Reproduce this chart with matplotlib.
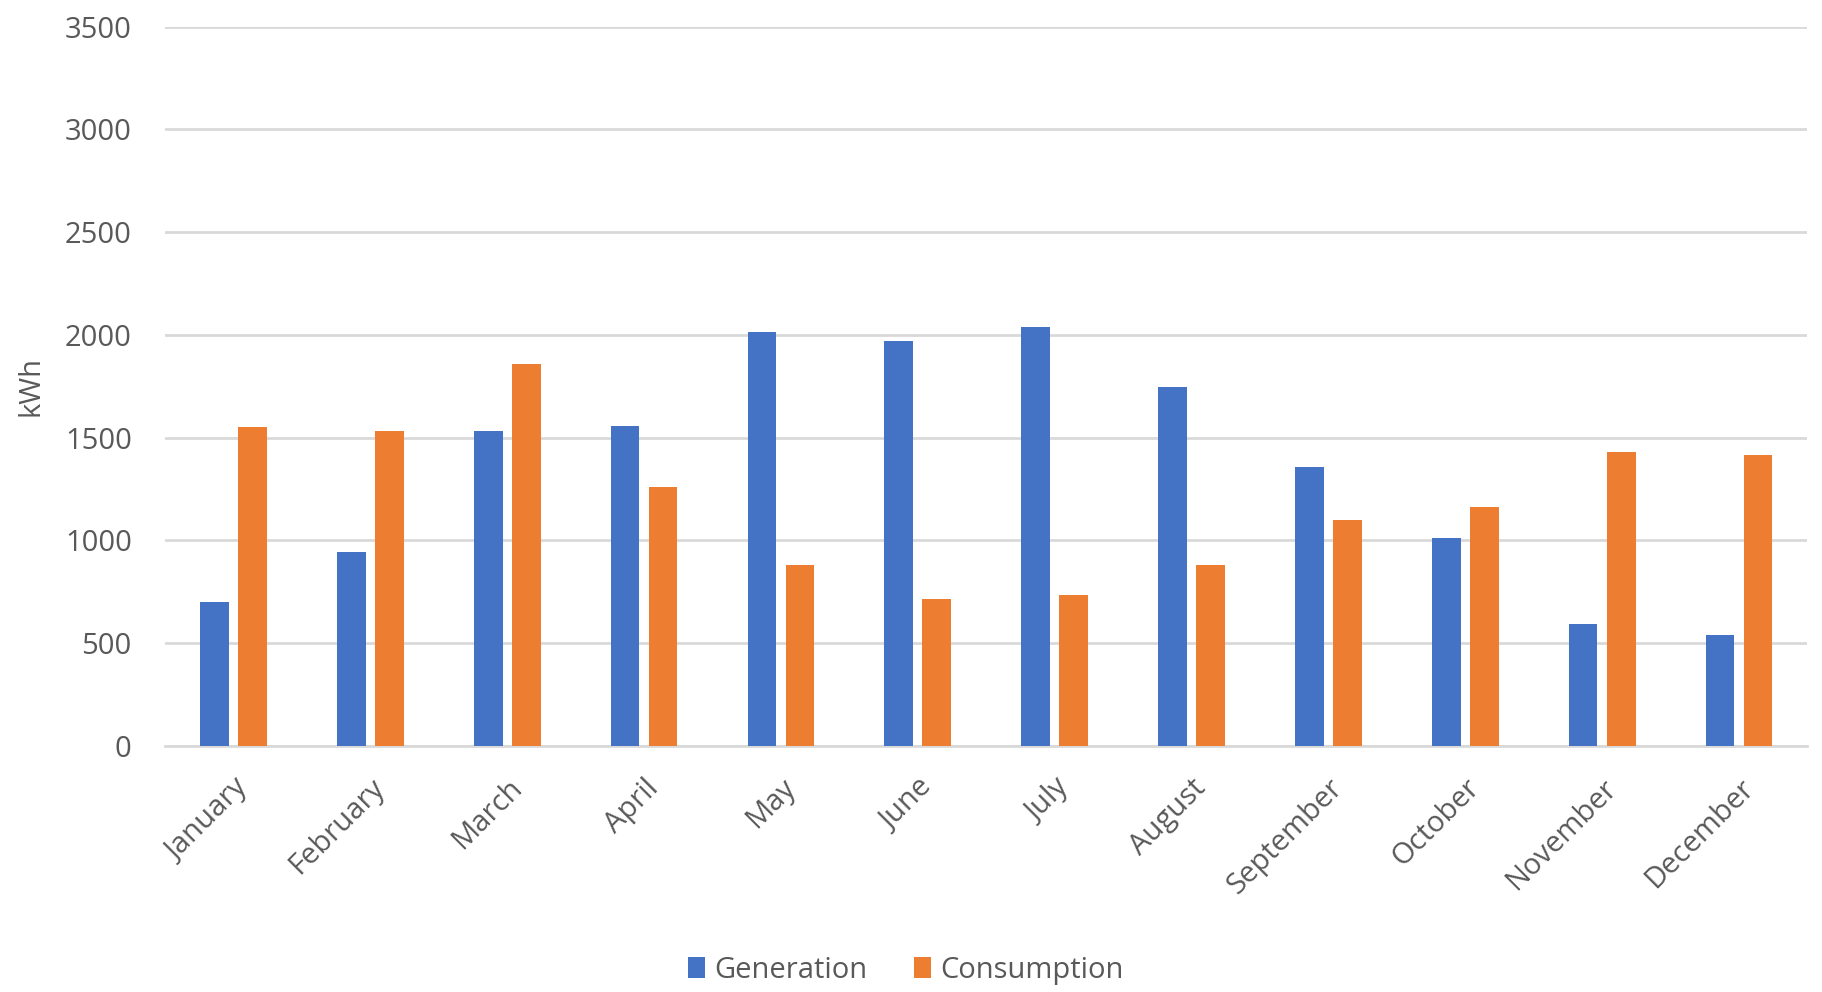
import matplotlib
matplotlib.use("Agg")
import matplotlib.pyplot as plt
import numpy as np

# ============================================
# DATA
# ============================================
months = ["January", "February", "March", "April", "May", "June",
          "July", "August", "September", "October", "November", "December"]

generation = [700, 945, 1530, 1555, 2015, 1970, 2040, 1745, 1355, 1010, 590, 540]
consumption = [1550, 1530, 1860, 1260, 880, 715, 735, 880, 1100, 1160, 1430, 1415]

y_ticks = [0, 500, 1000, 1500, 2000, 2500, 3000, 3500]

# ============================================
# PLOT
# ============================================
plt.rcParams['font.family'] = ['Open Sans', 'DejaVu Sans']
text_color = "#595959"
blue = "#4472C4"
orange = "#ED7D31"
fs = 21

fig = plt.figure(figsize=(18.22, 9.92), dpi=100)
ax = fig.add_axes([0.0906, 0.2483, 0.9014, 0.7247])

x = np.arange(len(months))
w = 0.21
off = 0.139

ax.bar(x - off, generation, width=w, color=blue, label="Generation", zorder=3)
ax.bar(x + off, consumption, width=w, color=orange, label="Consumption", zorder=3)

ax.set_xlim(-0.5, len(months) - 0.5)
ax.set_ylim(0, 3500)
ax.set_yticks(y_ticks)
ax.yaxis.grid(True, color="#D9D9D9", linewidth=2, zorder=0)
ax.set_axisbelow(True)

for s in ["top", "right", "left"]:
    ax.spines[s].set_visible(False)
ax.spines["bottom"].set_color("#D9D9D9")
ax.spines["bottom"].set_linewidth(2)

ax.tick_params(axis="both", length=0, labelsize=fs, colors=text_color)
ax.tick_params(axis="x", pad=20)
ax.tick_params(axis="y", pad=24)
ax.set_xticks(x)
ax.set_xticklabels(months, rotation=45, ha="right", rotation_mode="anchor")

ax.set_ylabel("kWh", fontsize=fs, color=text_color, labelpad=14)

leg = fig.legend(loc="center", ncol=2, frameon=False, fontsize=fs,
                 bbox_to_anchor=(0.497, 0.022), handlelength=0.6, handleheight=0.7,
                 columnspacing=1.6, handletextpad=0.3)
for t in leg.get_texts():
    t.set_color(text_color)

fig.savefig("out.png", dpi=100)
